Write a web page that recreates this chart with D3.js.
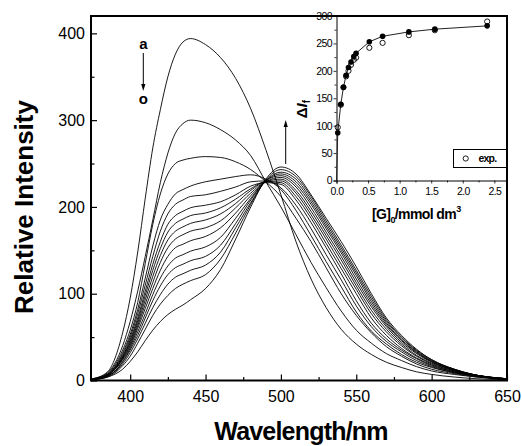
<!DOCTYPE html>
<html>
<head>
<meta charset="utf-8">
<script src="https://cdn.jsdelivr.net/npm/d3@7"></script>
<style>
  body { margin: 0; background: #fff; }
  svg { display: block; font-family: "Liberation Sans", Arial, Helvetica, sans-serif; }
</style>
</head>
<body>
<svg id="chart" width="522" height="446"></svg>
<script>
// Emission spectra a..o (relative intensity vs wavelength, nm)
const wavelengths = [375, 385, 395, 400, 405, 410, 415, 420, 425, 430, 435, 440, 450, 460, 470, 480, 490, 500, 510, 520, 530, 540, 550, 560, 570, 580, 590, 600, 615, 630, 650];
const spectrumA = [2, 10, 55, 95, 148, 210, 268, 312, 350, 376, 390, 394, 387, 372, 348, 313, 266, 214, 160, 117, 84, 59, 42, 30, 21, 15, 10, 7, 4, 2, 1];
const spectrumB = [2, 9, 40, 68, 103, 143, 185, 228, 262, 285, 296, 300, 297, 289, 277, 259, 229, 200, 168, 136, 107, 80, 58, 43, 31, 23, 16, 11, 7, 4, 1.5];
const spectrumC = [1.5, 8, 35, 58, 90, 135, 180, 215, 238, 250, 254, 256, 258, 257, 252, 243, 229, 212, 187, 160, 130, 100, 75, 55, 39, 28, 19, 13, 8, 4, 1.5];
const spectrumD = [1.5, 7, 32, 53, 82, 118, 155, 185, 203, 215, 220, 224, 229, 232, 235, 237, 232, 220, 196, 167, 137, 108, 79, 57, 42, 30, 21, 15, 9, 5, 1.5];
const spectrumE = [1.5, 7, 30, 50, 77, 110, 143, 172, 192, 203, 208, 212, 214, 218, 223, 229, 230, 222, 202, 175, 145, 116, 86, 62, 45, 33, 23, 16, 9, 5, 1.5];
const spectrumF = [1.5, 7, 28, 47, 72, 103, 134, 160, 180, 190, 195, 199, 202, 206, 214, 224, 228, 226, 208, 182, 153, 123, 92, 66, 48, 35, 25, 17, 10, 5, 1.5];
const spectrumG = [1.5, 6, 27, 45, 69, 98, 127, 152, 171, 181, 186, 190, 193, 199, 209, 221, 229, 228, 212, 187, 158, 129, 100, 72, 52, 37, 26, 18, 10, 5, 1.5];
const spectrumH = [1.5, 6, 26, 43, 66, 93, 120, 144, 162, 172, 177, 181, 185, 192, 204, 219, 229, 230, 216, 191, 163, 134, 105, 77, 56, 40, 28, 19, 11, 5, 1.5];
const spectrumI = [1.5, 6, 25, 41, 63, 88, 113, 136, 153, 163, 168, 172, 176, 184, 199, 216, 229, 232, 219, 195, 167, 139, 109, 81, 59, 42, 29, 20, 11, 6, 2];
const spectrumJ = [1.5, 6, 24, 39, 60, 83, 106, 127, 143, 153, 157, 161, 166, 176, 193, 213, 229, 234, 223, 199, 171, 143, 113, 85, 62, 44, 31, 21, 12, 6, 2];
const spectrumK = [1.5, 5, 22, 37, 56, 77, 99, 118, 132, 141, 145, 149, 154, 165, 187, 210, 230, 236, 226, 203, 175, 147, 117, 88, 64, 46, 32, 22, 12, 6, 2];
const spectrumL = [1.5, 5, 21, 35, 52, 72, 92, 109, 122, 130, 134, 138, 143, 156, 181, 208, 230, 238, 229, 206, 178, 150, 121, 91, 66, 47, 33, 22, 12, 6, 2];
const spectrumM = [1, 5, 19, 32, 48, 66, 84, 99, 111, 119, 123, 127, 133, 148, 176, 205, 230, 240, 232, 209, 181, 153, 124, 94, 68, 49, 34, 23, 13, 6, 2];
const spectrumN = [1, 4, 17, 28, 43, 59, 75, 88, 98, 106, 111, 115, 122, 140, 170, 203, 231, 243, 235, 212, 184, 156, 127, 97, 70, 50, 35, 24, 13, 6, 2];
const spectrumO = [1, 4, 13, 22, 33, 46, 58, 68, 76, 82, 87, 93, 106, 128, 163, 200, 232, 246, 238, 214, 187, 160, 131, 100, 72, 52, 36, 24, 13, 6, 2];
const spectra = [spectrumA, spectrumB, spectrumC, spectrumD, spectrumE, spectrumF, spectrumG, spectrumH,
                 spectrumI, spectrumJ, spectrumK, spectrumL, spectrumM, spectrumN, spectrumO];

const xTicks = [400, 450, 500, 550, 600, 650];
const xMinorTicks = [425, 475, 525, 575, 625];
const yTicks = [0, 100, 200, 300, 400];
const yMinorTicks = [50, 150, 250, 350];

// Inset: titration curve, ΔIf vs [G]0
const guestConc = [0.02, 0.068, 0.11, 0.152, 0.19, 0.23, 0.274, 0.31, 0.52, 0.73, 1.146, 1.557, 2.386];
const deltaFit = [87, 139, 170, 192, 206, 216, 226, 232, 253, 263, 271, 276, 282];
const deltaExp = [97, 138, 170, 190, 200, 211, 220, 224, 242, 251, 265, 274, 290];
const insetXTicks = [0, 0.5, 1.0, 1.5, 2.0, 2.5];
const insetXMinor = [0.25, 0.75, 1.25, 1.75, 2.25];
const insetYTicks = [0, 50, 100, 150, 200, 250, 300];
const insetYMinor = [25, 75, 125, 175, 225, 275];

const svg = d3.select("#chart");

// ---------- main plot ----------
const x = d3.scaleLinear().domain([374, 650]).range([91, 507]);
const y = d3.scaleLinear().domain([0, 420]).range([380.5, 16]);

const line = d3.line()
  .x((d, i) => x(wavelengths[i]))
  .y(d => y(d))
  .curve(d3.curveMonotoneX);

svg.append("g")
  .selectAll("path")
  .data(spectra)
  .join("path")
  .attr("d", line)
  .attr("fill", "none")
  .attr("stroke", "#000")
  .attr("stroke-width", 0.9);

// axes with inward ticks
const xAxis = svg.append("g").attr("transform", `translate(0,${y(0)})`)
  .call(d3.axisBottom(x).tickValues(xTicks).tickSize(-6).tickPadding(10).tickFormat(d3.format("d")));
svg.append("g").attr("transform", `translate(0,${y(0)})`)
  .call(d3.axisBottom(x).tickValues(xMinorTicks).tickSize(-3.5).tickFormat(""))
  .select(".domain").remove();
const yAxis = svg.append("g").attr("transform", `translate(${x(374)},0)`)
  .call(d3.axisLeft(y).tickValues(yTicks).tickSize(-6).tickPadding(6).tickFormat(d3.format("d")));
svg.append("g").attr("transform", `translate(${x(374)},0)`)
  .call(d3.axisLeft(y).tickValues(yMinorTicks).tickSize(-3.5).tickFormat(""))
  .select(".domain").remove();

[xAxis, yAxis].forEach(g => {
  g.select(".domain").remove();
  g.selectAll("text").attr("font-size", 16).attr("font-family", "Liberation Sans, Arial, sans-serif").attr("fill", "#000");
});
svg.selectAll(".tick line").attr("stroke", "#000").attr("stroke-width", 1.2);

// frame
svg.append("rect")
  .attr("x", x(374)).attr("y", y(420))
  .attr("width", x(650) - x(374)).attr("height", y(0) - y(420))
  .attr("fill", "none").attr("stroke", "#000").attr("stroke-width", 2);

// axis titles
svg.append("text")
  .attr("transform", "translate(33,207) rotate(-90)")
  .attr("text-anchor", "middle")
  .attr("font-size", 26).attr("font-weight", "bold")
  .text("Relative Intensity");
svg.append("text")
  .attr("x", 301).attr("y", 440)
  .attr("text-anchor", "middle")
  .attr("font-size", 25).attr("font-weight", "bold")
  .attr("letter-spacing", "-0.8px")
  .text("Wavelength/nm");

// a → o arrow (decrease of the short-wavelength band)
svg.append("text").attr("x", 143.3).attr("y", 48.5).attr("text-anchor", "middle")
  .attr("font-size", 15).attr("font-weight", "bold").text("a");
svg.append("line").attr("x1", 143.3).attr("x2", 143.3).attr("y1", 53).attr("y2", 86)
  .attr("stroke", "#000").attr("stroke-width", 1);
svg.append("path").attr("d", "M141.2,84 L145.4,84 L143.3,91 Z").attr("fill", "#000");
svg.append("text").attr("x", 143.3).attr("y", 104).attr("text-anchor", "middle")
  .attr("font-size", 15).attr("font-weight", "bold").text("o");

// upward arrow (growth of the long-wavelength band)
svg.append("line").attr("x1", 285.7).attr("x2", 285.7).attr("y1", 164).attr("y2", 125)
  .attr("stroke", "#000").attr("stroke-width", 1);
svg.append("path").attr("d", "M283.6,127 L287.8,127 L285.7,120 Z").attr("fill", "#000");

// ---------- inset ----------
const ix = d3.scaleLinear().domain([0, 2.7]).range([336.5, 507]);
const iy = d3.scaleLinear().domain([0, 300]).range([180.5, 16]);

const inset = svg.append("g");
inset.append("rect")
  .attr("x", ix(0)).attr("y", iy(300))
  .attr("width", ix(2.7) - ix(0)).attr("height", iy(0) - iy(300))
  .attr("fill", "#fff").attr("stroke", "none");

const ixAxis = inset.append("g").attr("transform", `translate(0,${iy(0)})`)
  .call(d3.axisBottom(ix).tickValues(insetXTicks).tickSize(3).tickPadding(4).tickFormat(d3.format(".1f")));
inset.append("g").attr("transform", `translate(0,${iy(0)})`)
  .call(d3.axisBottom(ix).tickValues(insetXMinor).tickSize(2).tickFormat(""))
  .select(".domain").remove();
const iyAxis = inset.append("g").attr("transform", `translate(${ix(0)},0)`)
  .call(d3.axisLeft(iy).tickValues(insetYTicks).tickSize(3).tickPadding(1.5).tickFormat(d3.format("d")));
inset.append("g").attr("transform", `translate(${ix(0)},0)`)
  .call(d3.axisLeft(iy).tickValues(insetYMinor).tickSize(2).tickFormat(""))
  .select(".domain").remove();
[ixAxis, iyAxis].forEach(g => {
  g.select(".domain").attr("stroke", "#000").attr("stroke-width", 1);
  g.selectAll("text").attr("font-size", 10.5).attr("letter-spacing", "-0.6px")
    .attr("font-family", "Liberation Sans, Arial, sans-serif").attr("fill", "#000");
});
inset.selectAll(".tick line").attr("stroke", "#000").attr("stroke-width", 0.8);

// fitted curve from the origin through the filled points
const fitLine = d3.line()
  .x(d => ix(d[0]))
  .y(d => iy(d[1]));
inset.append("path")
  .attr("d", fitLine([[0, 0]].concat(guestConc.map((c, i) => [c, deltaFit[i]]))))
  .attr("fill", "none").attr("stroke", "#222").attr("stroke-width", 1);

inset.append("g").selectAll("circle")
  .data(guestConc)
  .join("circle")
  .attr("cx", d => ix(d))
  .attr("cy", (d, i) => iy(deltaExp[i]))
  .attr("r", 2.6)
  .attr("fill", "none").attr("stroke", "#000").attr("stroke-width", 0.9);

inset.append("g").selectAll("circle")
  .data(guestConc)
  .join("circle")
  .attr("cx", d => ix(d))
  .attr("cy", (d, i) => iy(deltaFit[i]))
  .attr("r", 2.8)
  .attr("fill", "#000");

// legend
inset.append("rect").attr("x", 453.5).attr("y", 149.5).attr("width", 53.5).attr("height", 18)
  .attr("fill", "#fff").attr("stroke", "#000").attr("stroke-width", 1);
inset.append("circle").attr("cx", 465.7).attr("cy", 158.5).attr("r", 2.6)
  .attr("fill", "none").attr("stroke", "#000").attr("stroke-width", 0.9);
inset.append("text").attr("x", 478.5).attr("y", 162).attr("font-size", 10.5)
  .attr("font-weight", "bold").attr("letter-spacing", "-0.8px").text("exp.");

// inset titles
const iyTitle = inset.append("text")
  .attr("transform", "translate(307,109) rotate(-90)")
  .attr("text-anchor", "middle")
  .attr("font-size", 15).attr("font-weight", "bold");
iyTitle.append("tspan").text("Δ");
iyTitle.append("tspan").attr("font-style", "italic").text("I");
iyTitle.append("tspan").attr("font-size", 10).attr("dy", 3).text("f");

const ixTitle = inset.append("text")
  .attr("x", 372).attr("y", 219)
  .attr("font-size", 14).attr("font-weight", "bold").attr("letter-spacing", "-0.6px");
ixTitle.append("tspan").text("[G]");
ixTitle.append("tspan").attr("font-size", 9).attr("dy", 4).text("0");
ixTitle.append("tspan").attr("dy", -4).text("/mmol dm");
ixTitle.append("tspan").attr("font-size", 9).attr("dy", -7).text("3");

// shared top/right border redrawn over the inset
svg.append("path")
  .attr("d", `M${x(374)},${y(420)} H${x(650)} V${y(0)}`)
  .attr("fill", "none").attr("stroke", "#000").attr("stroke-width", 2);
</script>
</body>
</html>
